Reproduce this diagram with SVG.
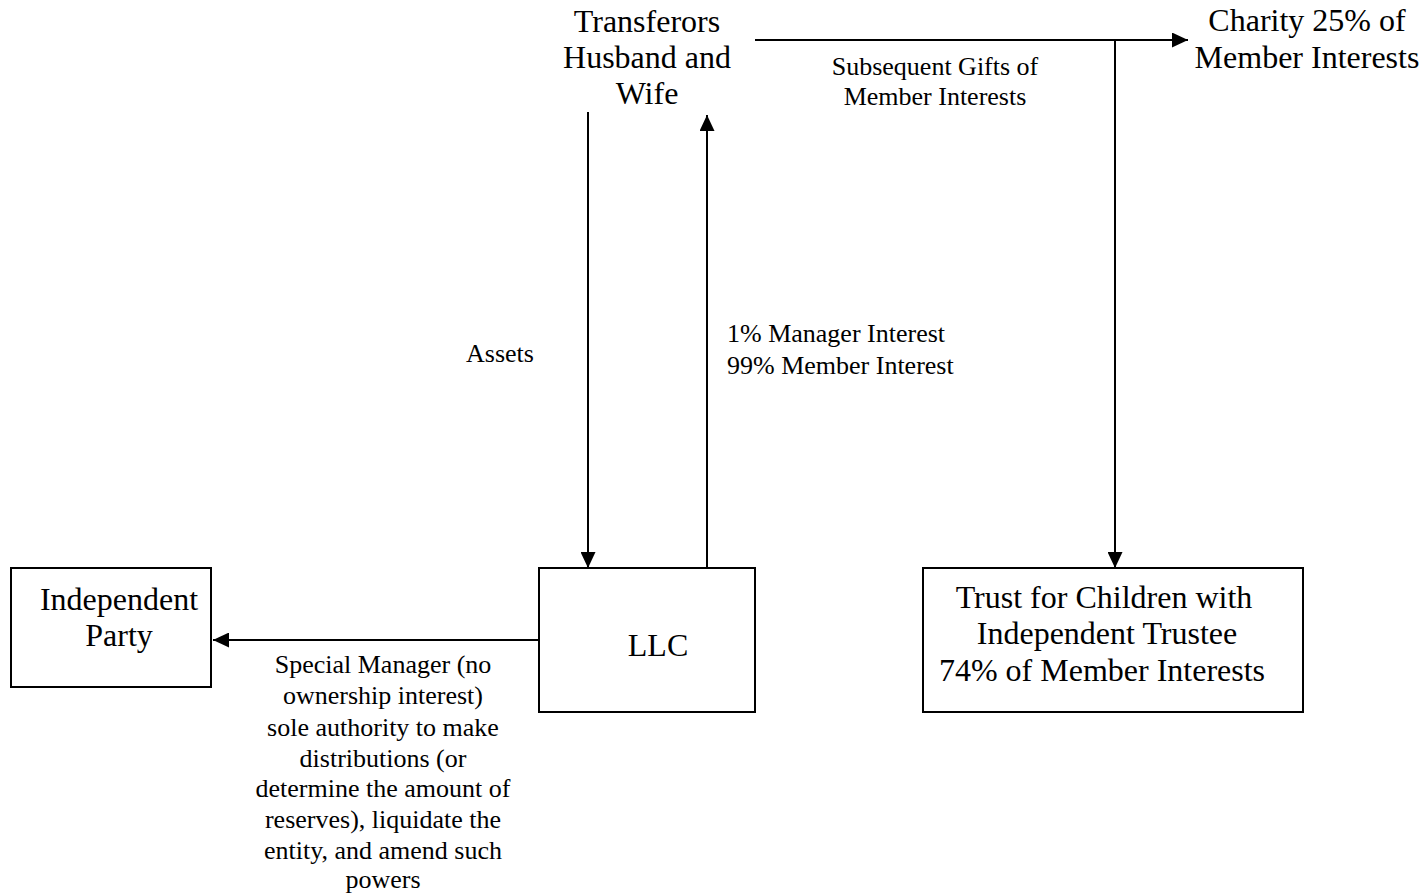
<svg xmlns="http://www.w3.org/2000/svg" width="1424" height="893" viewBox="0 0 1424 893">
  <style>
    .box { fill: #ffffff; stroke: #000000; stroke-width: 2; }
    .edge { fill: none; stroke: #000000; stroke-width: 2; }
    .big { font-family: "Liberation Serif", "Times New Roman", serif; font-size: 32px; fill: #000000; text-anchor: middle; }
    .small { font-family: "Liberation Serif", "Times New Roman", serif; font-size: 26px; fill: #000000; text-anchor: middle; }
    .left { text-anchor: start; }
  </style>
  <defs>
    <marker id="arrow" markerUnits="userSpaceOnUse" markerWidth="16" markerHeight="15" refX="16" refY="7.5" orient="auto">
      <path d="M0,0 L16,7.5 L0,15 z" fill="#000000"/>
    </marker>
  </defs>

  <rect width="1424" height="893" fill="#ffffff"/>

  <!-- Connectors -->
  <g id="connectors">
    <line class="edge" x1="588" y1="112" x2="588" y2="568" marker-end="url(#arrow)"/>
    <line class="edge" x1="707" y1="568" x2="707" y2="115" marker-end="url(#arrow)"/>
    <line class="edge" x1="755" y1="40" x2="1188" y2="40" marker-end="url(#arrow)"/>
    <line class="edge" x1="1115" y1="40" x2="1115" y2="568" marker-end="url(#arrow)"/>
    <line class="edge" x1="539" y1="640" x2="213" y2="640" marker-end="url(#arrow)"/>
    <text class="small" x="935" y="75">Subsequent Gifts of</text>
    <text class="small" x="935" y="105">Member Interests</text>
    <text class="small" x="500" y="362">Assets</text>
    <text class="small left" x="727" y="342">1% Manager Interest</text>
    <text class="small left" x="727" y="374">99% Member Interest</text>
    <g class="small">
      <text class="small" x="383" y="673">Special Manager (no</text>
      <text class="small" x="383" y="704">ownership interest)</text>
      <text class="small" x="383" y="736">sole authority to make</text>
      <text class="small" x="383" y="767">distributions (or</text>
      <text class="small" x="383" y="797">determine the amount of</text>
      <text class="small" x="383" y="828">reserves), liquidate the</text>
      <text class="small" x="383" y="859">entity, and amend such</text>
      <text class="small" x="383" y="888">powers</text>
    </g>
  </g>

  <!-- Nodes -->
  <g id="transferors">
    <text class="big" x="647" y="32">Transferors</text>
    <text class="big" x="647" y="68">Husband and</text>
    <text class="big" x="647" y="104">Wife</text>
  </g>

  <g id="charity">
    <text class="big" x="1307" y="31">Charity 25% of</text>
    <text class="big" x="1307" y="68">Member Interests</text>
  </g>

  <g id="independent-party">
    <rect class="box" x="11" y="568" width="200" height="119"/>
    <text class="big" x="119" y="610">Independent</text>
    <text class="big" x="119" y="646">Party</text>
  </g>

  <g id="llc">
    <rect class="box" x="539" y="568" width="216" height="144"/>
    <text class="big" x="658" y="656">LLC</text>
  </g>

  <g id="trust">
    <rect class="box" x="923" y="568" width="380" height="144"/>
    <text class="big" x="1104" y="608">Trust for Children with</text>
    <text class="big" x="1107" y="644">Independent Trustee</text>
    <text class="big" x="1102" y="681">74% of Member Interests</text>
  </g>
</svg>
